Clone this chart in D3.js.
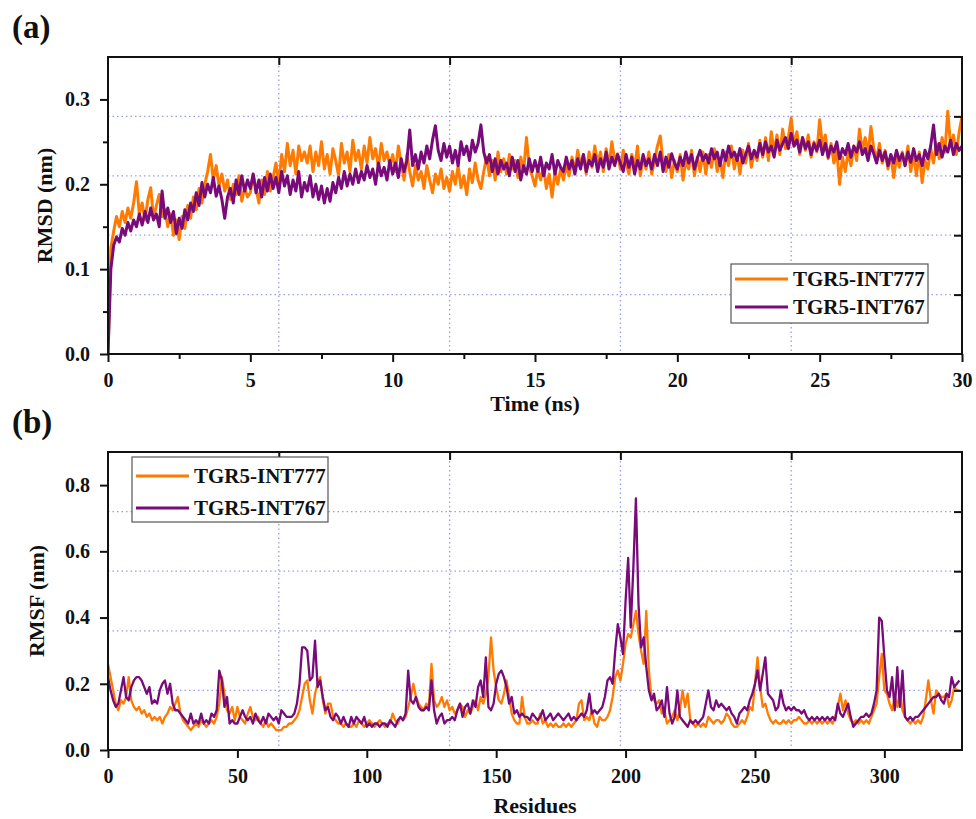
<!DOCTYPE html>
<html>
<head>
<meta charset="utf-8">
<script src="https://cdn.jsdelivr.net/npm/d3@7"></script>
<style>
  body { margin: 0; background: #fff; }
  svg text { font-family: "Liberation Serif", "Times New Roman", serif; font-weight: bold; fill: #111; }
</style>
</head>
<body>
<div id="chart"></div>
<script>
// Series names and colours (legend order)
const seriesNames = ['TGR5-INT777', 'TGR5-INT767'];
const seriesColors = ['#ff7a00', '#780a7a'];

// (a) RMSD vs time, one value every 0.1 ns, 0 to 30 ns
const rmsdStep = 0.1;
const rmsdINT777 = [
  0.000, 0.125, 0.145, 0.162, 0.150, 0.168, 0.155, 0.172, 0.160, 0.178,
  0.203, 0.165, 0.178, 0.158, 0.182, 0.196, 0.160, 0.175, 0.188, 0.162,
  0.170, 0.150, 0.165, 0.140, 0.158, 0.135, 0.162, 0.148, 0.175, 0.160,
  0.185, 0.170, 0.195, 0.178, 0.200, 0.215, 0.235, 0.205, 0.222, 0.198,
  0.212, 0.192, 0.205, 0.182, 0.200, 0.188, 0.210, 0.180, 0.196, 0.185,
  0.190, 0.212, 0.195, 0.178, 0.205, 0.188, 0.215, 0.192, 0.208, 0.225,
  0.200, 0.235, 0.215, 0.248, 0.222, 0.240, 0.212, 0.245, 0.228, 0.238,
  0.225, 0.245, 0.215, 0.238, 0.222, 0.250, 0.218, 0.235, 0.212, 0.242,
  0.228, 0.210, 0.248, 0.225, 0.238, 0.215, 0.252, 0.228, 0.240, 0.218,
  0.245, 0.225, 0.255, 0.230, 0.242, 0.220, 0.248, 0.228, 0.238, 0.222,
  0.235, 0.215, 0.245, 0.225, 0.205, 0.235, 0.215, 0.198, 0.222, 0.205,
  0.215, 0.195, 0.222, 0.205, 0.190, 0.212, 0.200, 0.218, 0.195, 0.208,
  0.192, 0.215, 0.200, 0.222, 0.196, 0.210, 0.188, 0.218, 0.202, 0.225,
  0.205, 0.195, 0.215, 0.232, 0.210, 0.228, 0.205, 0.238, 0.215, 0.230,
  0.212, 0.235, 0.218, 0.228, 0.208, 0.232, 0.215, 0.255, 0.220, 0.210,
  0.198, 0.218, 0.205, 0.222, 0.195, 0.212, 0.185, 0.215, 0.200, 0.218,
  0.205, 0.222, 0.210, 0.232, 0.215, 0.240, 0.222, 0.235, 0.212, 0.238,
  0.220, 0.245, 0.225, 0.238, 0.215, 0.242, 0.222, 0.250, 0.228, 0.236,
  0.218, 0.240, 0.225, 0.212, 0.235, 0.220, 0.245, 0.210, 0.232, 0.218,
  0.238, 0.212, 0.228, 0.245, 0.257, 0.225, 0.215, 0.235, 0.208, 0.228,
  0.215, 0.235, 0.205, 0.228, 0.218, 0.240, 0.210, 0.232, 0.215, 0.238,
  0.212, 0.235, 0.220, 0.242, 0.215, 0.230, 0.208, 0.238, 0.222, 0.245,
  0.218, 0.235, 0.212, 0.240, 0.225, 0.248, 0.220, 0.238, 0.228, 0.252,
  0.232, 0.255, 0.228, 0.262, 0.238, 0.258, 0.235, 0.265, 0.242, 0.255,
  0.278, 0.245, 0.262, 0.235, 0.255, 0.240, 0.258, 0.232, 0.250, 0.238,
  0.276, 0.245, 0.258, 0.230, 0.248, 0.225, 0.240, 0.200, 0.232, 0.215,
  0.238, 0.222, 0.245, 0.228, 0.265, 0.240, 0.255, 0.235, 0.268, 0.242,
  0.230, 0.248, 0.225, 0.240, 0.218, 0.235, 0.208, 0.232, 0.220, 0.238,
  0.222, 0.245, 0.215, 0.235, 0.210, 0.238, 0.202, 0.228, 0.218, 0.242,
  0.225, 0.248, 0.230, 0.255, 0.238, 0.286, 0.245, 0.258, 0.235, 0.262,
  0.280
];
const rmsdINT767 = [
  0.000, 0.100, 0.128, 0.138, 0.132, 0.148, 0.140, 0.155, 0.145, 0.158,
  0.150, 0.165, 0.152, 0.168, 0.155, 0.172, 0.158, 0.165, 0.150, 0.192,
  0.160, 0.172, 0.155, 0.168, 0.142, 0.160, 0.148, 0.170, 0.158, 0.178,
  0.168, 0.190, 0.175, 0.202, 0.185, 0.200, 0.190, 0.208, 0.186, 0.198,
  0.182, 0.160, 0.185, 0.195, 0.178, 0.205, 0.188, 0.210, 0.192, 0.205,
  0.195, 0.212, 0.190, 0.205, 0.185, 0.208, 0.192, 0.212, 0.195, 0.208,
  0.190, 0.215, 0.198, 0.210, 0.188, 0.205, 0.192, 0.215, 0.185, 0.202,
  0.192, 0.210, 0.185, 0.200, 0.182, 0.198, 0.178, 0.195, 0.180, 0.202,
  0.190, 0.208, 0.195, 0.215, 0.198, 0.212, 0.200, 0.218, 0.202, 0.215,
  0.205, 0.222, 0.208, 0.218, 0.200, 0.225, 0.210, 0.220, 0.205, 0.228,
  0.212, 0.225, 0.208, 0.230, 0.215, 0.228, 0.264, 0.222, 0.235, 0.218,
  0.238, 0.225, 0.245, 0.230, 0.252, 0.269, 0.240, 0.228, 0.248, 0.232,
  0.245, 0.225, 0.240, 0.222, 0.250, 0.235, 0.245, 0.228, 0.252, 0.238,
  0.248, 0.270, 0.238, 0.225, 0.235, 0.215, 0.230, 0.212, 0.228, 0.218,
  0.225, 0.210, 0.232, 0.215, 0.228, 0.205, 0.222, 0.212, 0.230, 0.215,
  0.228, 0.215, 0.232, 0.210, 0.225, 0.218, 0.235, 0.212, 0.228, 0.220,
  0.215, 0.232, 0.218, 0.228, 0.212, 0.230, 0.218, 0.235, 0.215, 0.228,
  0.222, 0.235, 0.215, 0.230, 0.220, 0.238, 0.218, 0.232, 0.222, 0.235,
  0.225, 0.215, 0.235, 0.220, 0.232, 0.212, 0.228, 0.218, 0.235, 0.222,
  0.230, 0.218, 0.235, 0.222, 0.238, 0.215, 0.232, 0.220, 0.236, 0.225,
  0.218, 0.232, 0.222, 0.238, 0.225, 0.235, 0.218, 0.230, 0.240, 0.228,
  0.235, 0.225, 0.242, 0.230, 0.238, 0.222, 0.240, 0.228, 0.245, 0.232,
  0.238, 0.228, 0.242, 0.225, 0.235, 0.245, 0.230, 0.240, 0.232, 0.248,
  0.235, 0.250, 0.238, 0.245, 0.232, 0.252, 0.240, 0.248, 0.255, 0.242,
  0.260, 0.245, 0.252, 0.238, 0.255, 0.242, 0.250, 0.235, 0.248, 0.240,
  0.252, 0.235, 0.248, 0.232, 0.245, 0.238, 0.250, 0.230, 0.242, 0.235,
  0.248, 0.232, 0.245, 0.238, 0.250, 0.235, 0.242, 0.228, 0.245, 0.236,
  0.225, 0.240, 0.228, 0.238, 0.222, 0.235, 0.225, 0.240, 0.228, 0.236,
  0.222, 0.238, 0.226, 0.242, 0.228, 0.235, 0.222, 0.240, 0.230, 0.245,
  0.270, 0.235, 0.248, 0.232, 0.245, 0.238, 0.252, 0.235, 0.248, 0.240,
  0.245
];
const timeTicks = [0, 5, 10, 15, 20, 25, 30];
const rmsdTicks = [0.0, 0.1, 0.2, 0.3];
const timeGrid = [6, 12, 18, 24];
const rmsdGrid = [0.07, 0.14, 0.21, 0.28];

// (b) RMSF per residue, residues 0..329
const residueStart = 0;
const rmsfINT777 = [
  0.26, 0.22, 0.18, 0.14, 0.12, 0.15, 0.14, 0.16, 0.22, 0.15,
  0.13, 0.12, 0.13, 0.11, 0.12, 0.10, 0.11, 0.09, 0.10, 0.09,
  0.10, 0.08, 0.10, 0.11, 0.13, 0.12, 0.14, 0.16, 0.11, 0.09,
  0.08, 0.07, 0.06, 0.07, 0.08, 0.07, 0.09, 0.08, 0.07, 0.08,
  0.09, 0.08, 0.10, 0.14, 0.22, 0.17, 0.12, 0.11, 0.13, 0.09,
  0.13, 0.10, 0.09, 0.08, 0.11, 0.13, 0.10, 0.09, 0.10, 0.08,
  0.07, 0.09, 0.07, 0.08, 0.07, 0.06, 0.06, 0.06, 0.07, 0.07,
  0.08, 0.08, 0.09, 0.10, 0.12, 0.16, 0.20, 0.21, 0.15, 0.11,
  0.17, 0.20, 0.22, 0.15, 0.11, 0.14, 0.14, 0.10, 0.09, 0.08,
  0.08, 0.07, 0.08, 0.07, 0.07, 0.08, 0.07, 0.09, 0.08, 0.07,
  0.08, 0.09, 0.08, 0.07, 0.08, 0.09, 0.08, 0.07, 0.08, 0.08,
  0.11, 0.09, 0.08, 0.10, 0.09, 0.10, 0.13, 0.16, 0.20, 0.16,
  0.14, 0.13, 0.12, 0.14, 0.13, 0.26, 0.15, 0.13, 0.14, 0.16,
  0.13, 0.15, 0.12, 0.13, 0.11, 0.12, 0.14, 0.13, 0.10, 0.12,
  0.11, 0.13, 0.15, 0.12, 0.16, 0.14, 0.17, 0.22, 0.34, 0.24,
  0.19, 0.15, 0.14, 0.17, 0.21, 0.16, 0.11, 0.09, 0.08, 0.08,
  0.16, 0.10, 0.08, 0.08, 0.09, 0.08, 0.08, 0.11, 0.08, 0.09,
  0.07, 0.08, 0.07, 0.08, 0.07, 0.07, 0.08, 0.07, 0.08, 0.07,
  0.08, 0.09, 0.14, 0.15, 0.09, 0.10, 0.09, 0.12, 0.08, 0.07,
  0.10, 0.09, 0.09, 0.10, 0.12, 0.16, 0.22, 0.24, 0.21, 0.26,
  0.32, 0.35, 0.34, 0.38, 0.42, 0.35, 0.30, 0.26, 0.42, 0.24,
  0.16, 0.15, 0.14, 0.15, 0.11, 0.12, 0.08, 0.09, 0.10, 0.12,
  0.09, 0.12, 0.18, 0.13, 0.17, 0.09, 0.08, 0.07, 0.08, 0.07,
  0.08, 0.07, 0.10, 0.09, 0.08, 0.09, 0.09, 0.08, 0.09, 0.11,
  0.10, 0.08, 0.07, 0.07, 0.08, 0.09, 0.08, 0.10, 0.13, 0.12,
  0.20, 0.28, 0.19, 0.13, 0.14, 0.11, 0.09, 0.08, 0.09, 0.08,
  0.08, 0.09, 0.08, 0.09, 0.08, 0.09, 0.09, 0.10, 0.09, 0.08,
  0.08, 0.09, 0.08, 0.09, 0.08, 0.09, 0.08, 0.09, 0.08, 0.09,
  0.08, 0.10, 0.13, 0.17, 0.12, 0.15, 0.11, 0.09, 0.08, 0.09,
  0.08, 0.09, 0.08, 0.09, 0.08, 0.10, 0.12, 0.14, 0.22, 0.29,
  0.18, 0.17, 0.14, 0.12, 0.16, 0.13, 0.18, 0.12, 0.10, 0.09,
  0.08, 0.09, 0.08, 0.09, 0.08, 0.10, 0.15, 0.21, 0.15, 0.11,
  0.18, 0.17, 0.16, 0.16, 0.17, 0.13, 0.15, 0.19, 0.18, 0.18
];
const rmsfINT767 = [
  0.22, 0.18, 0.15, 0.13, 0.14, 0.18, 0.22, 0.16, 0.15, 0.19,
  0.21, 0.22, 0.22, 0.21, 0.19, 0.17, 0.19, 0.14, 0.15, 0.14,
  0.18, 0.20, 0.21, 0.17, 0.20, 0.14, 0.12, 0.12, 0.11, 0.10,
  0.09, 0.08, 0.11, 0.08, 0.09, 0.08, 0.11, 0.08, 0.09, 0.08,
  0.11, 0.10, 0.12, 0.24, 0.21, 0.13, 0.16, 0.08, 0.09, 0.08,
  0.08, 0.10, 0.12, 0.10, 0.09, 0.10, 0.08, 0.11, 0.09, 0.08,
  0.10, 0.08, 0.11, 0.10, 0.09, 0.10, 0.08, 0.12, 0.11, 0.10,
  0.10, 0.10, 0.11, 0.14, 0.20, 0.31, 0.31, 0.30, 0.21, 0.22,
  0.33, 0.19, 0.21, 0.16, 0.12, 0.13, 0.10, 0.09, 0.11, 0.10,
  0.08, 0.10, 0.08, 0.07, 0.10, 0.08, 0.10, 0.09, 0.08, 0.10,
  0.07, 0.08, 0.07, 0.08, 0.08, 0.07, 0.08, 0.08, 0.07, 0.09,
  0.08, 0.07, 0.09, 0.10, 0.09, 0.11, 0.24, 0.15, 0.14, 0.16,
  0.13, 0.12, 0.12, 0.13, 0.12, 0.21, 0.12, 0.08, 0.10, 0.11,
  0.08, 0.09, 0.09, 0.10, 0.09, 0.12, 0.14, 0.10, 0.13, 0.14,
  0.11, 0.15, 0.13, 0.19, 0.21, 0.16, 0.28, 0.13, 0.12, 0.14,
  0.20, 0.23, 0.24, 0.22, 0.19, 0.14, 0.16, 0.11, 0.12, 0.10,
  0.11, 0.10, 0.10, 0.09, 0.11, 0.10, 0.09, 0.10, 0.12, 0.09,
  0.10, 0.11, 0.09, 0.10, 0.11, 0.10, 0.09, 0.10, 0.11, 0.09,
  0.10, 0.09, 0.10, 0.11, 0.10, 0.12, 0.17, 0.11, 0.12, 0.11,
  0.12, 0.13, 0.16, 0.21, 0.22, 0.20, 0.30, 0.38, 0.34, 0.29,
  0.45, 0.58, 0.37, 0.55, 0.76, 0.44, 0.31, 0.34, 0.25, 0.18,
  0.15, 0.17, 0.12, 0.13, 0.15, 0.10, 0.19, 0.11, 0.08, 0.10,
  0.18, 0.10, 0.09, 0.08, 0.07, 0.09, 0.08, 0.09, 0.08, 0.09,
  0.10, 0.14, 0.18, 0.13, 0.12, 0.15, 0.13, 0.14, 0.13, 0.12,
  0.13, 0.11, 0.10, 0.08, 0.11, 0.12, 0.13, 0.12, 0.15, 0.17,
  0.20, 0.24, 0.18, 0.23, 0.28, 0.17, 0.16, 0.15, 0.12, 0.13,
  0.18, 0.14, 0.12, 0.13, 0.12, 0.13, 0.12, 0.12, 0.11, 0.12,
  0.10, 0.09, 0.10, 0.09, 0.10, 0.09, 0.10, 0.09, 0.10, 0.09,
  0.10, 0.09, 0.14, 0.11, 0.10, 0.12, 0.14, 0.10, 0.07, 0.08,
  0.09, 0.10, 0.10, 0.11, 0.10, 0.11, 0.14, 0.18, 0.40, 0.39,
  0.28, 0.18, 0.16, 0.22, 0.12, 0.25, 0.13, 0.24, 0.10, 0.09,
  0.10, 0.09, 0.10, 0.10, 0.11, 0.12, 0.13, 0.14, 0.15, 0.16,
  0.16, 0.17, 0.15, 0.14, 0.17, 0.16, 0.22, 0.19, 0.20, 0.21
];
const residueTicks = [0, 50, 100, 150, 200, 250, 300];
const rmsfTicks = [0.0, 0.2, 0.4, 0.6, 0.8];
const residueGrid = [66, 132, 198, 264];
const rmsfGrid = [0.18, 0.36, 0.54, 0.72];

const width = 976;
const height = 819;

function drawPanel(svg, p) {
  const x = d3.scaleLinear().domain(p.xDomain).range([p.left, p.right]);
  const y = d3.scaleLinear().domain(p.yDomain).range([p.bottom, p.top]);
  const g = svg.append('g');

  g.append('clipPath').attr('id', p.id + '-clip')
    .append('rect').attr('x', p.left).attr('y', p.top)
    .attr('width', p.right - p.left).attr('height', p.bottom - p.top);

  // dotted grid
  const grid = g.append('g').attr('stroke', '#9c9cec').attr('stroke-width', 1.3).attr('stroke-dasharray', '1.5,3');
  grid.selectAll('.gx').data(p.xGrid).enter().append('line')
    .attr('x1', (d) => x(d)).attr('x2', (d) => x(d)).attr('y1', p.top).attr('y2', p.bottom);
  grid.selectAll('.gy').data(p.yGrid).enter().append('line')
    .attr('y1', (d) => y(d)).attr('y2', (d) => y(d)).attr('x1', p.left).attr('x2', p.right);

  // data lines
  const line = d3.line().x((d, i) => x(p.xAt(i))).y((d) => y(d));
  const lines = g.append('g').attr('clip-path', `url(#${p.id}-clip)`);
  p.series.forEach((s, k) => {
    lines.append('path').datum(s).attr('fill', 'none')
      .attr('stroke', seriesColors[k]).attr('stroke-width', p.lineWidth)
      .attr('stroke-linejoin', 'round').attr('d', line);
  });

  // frame
  g.append('rect').attr('x', p.left).attr('y', p.top)
    .attr('width', p.right - p.left).attr('height', p.bottom - p.top)
    .attr('fill', 'none').attr('stroke', '#111').attr('stroke-width', 2);

  const styleAxis = (sel) => {
    sel.select('.domain').remove();
    sel.selectAll('line').attr('stroke', '#111').attr('stroke-width', 2);
    sel.selectAll('text').attr('font-size', 20).attr('fill', '#111')
      .attr('font-family', '"Liberation Serif", "Times New Roman", serif').attr('font-weight', 'bold');
  };

  g.append('g').attr('transform', `translate(0,${p.bottom})`)
    .call(d3.axisBottom(x).tickValues(p.xTicks).tickSize(8).tickPadding(11).tickFormat(d3.format('d')))
    .call(styleAxis);
  g.append('g').attr('transform', `translate(${p.left},0)`)
    .call(d3.axisLeft(y).tickValues(p.yTicks).tickSize(8).tickPadding(10).tickFormat(d3.format('.1f')))
    .call(styleAxis);
  if (p.minor) {
    g.append('g').attr('transform', `translate(0,${p.bottom})`)
      .call(d3.axisBottom(x).tickValues(d3.pairs(p.xTicks).map(([a, b]) => (a + b) / 2)).tickSize(5).tickFormat(''))
      .call(styleAxis);
    g.append('g').attr('transform', `translate(${p.left},0)`)
      .call(d3.axisLeft(y).tickValues(d3.pairs(p.yTicks).map(([a, b]) => (a + b) / 2)).tickSize(5).tickFormat(''))
      .call(styleAxis);
  }
  // inward ticks on top and right at grid positions
  g.append('g').attr('transform', `translate(0,${p.top})`)
    .call(d3.axisTop(x).tickValues(p.xGrid).tickSize(-8).tickFormat(''))
    .call(styleAxis);
  g.append('g').attr('transform', `translate(${p.right},0)`)
    .call(d3.axisRight(y).tickValues(p.yGrid).tickSize(-8).tickFormat(''))
    .call(styleAxis);

  // axis titles
  g.append('text').attr('x', (p.left + p.right) / 2).attr('y', p.xTitleY)
    .attr('text-anchor', 'middle').attr('font-size', 22).text(p.xTitle);
  g.append('text').attr('transform', `translate(${p.yTitleX},${(p.top + p.bottom) / 2}) rotate(-90)`)
    .attr('text-anchor', 'middle').attr('font-size', 22).text(p.yTitle);

  // panel letter
  g.append('text').attr('x', 12).attr('y', p.letterY).attr('font-size', 33).text(p.letter);

  // legend
  const L = p.legend;
  const lg = g.append('g');
  lg.append('rect').attr('x', L.x).attr('y', L.y).attr('width', L.w).attr('height', L.h)
    .attr('fill', '#fff').attr('stroke', '#555').attr('stroke-width', 1.2);
  seriesNames.forEach((name, k) => {
    const ry = L.y + L.row0 + k * L.rowGap;
    lg.append('line').attr('x1', L.x + 4).attr('x2', L.x + 57).attr('y1', ry).attr('y2', ry)
      .attr('stroke', seriesColors[k]).attr('stroke-width', 3);
    lg.append('text').attr('x', L.x + 62).attr('y', ry + 7).attr('font-size', 21).text(name);
  });
}

function initChart() {
  const svg = d3.select('#chart').append('svg').attr('width', width).attr('height', height);
  svg.append('rect').attr('width', width).attr('height', height).attr('fill', '#fff');

  drawPanel(svg, {
    id: 'a', letter: '(a)', letterY: 38,
    left: 108, right: 962, top: 57, bottom: 354,
    xDomain: [0, 30], yDomain: [0, 0.35],
    xTicks: timeTicks, yTicks: rmsdTicks, xGrid: timeGrid, yGrid: rmsdGrid, minor: true,
    xAt: (i) => i * rmsdStep,
    series: [rmsdINT777, rmsdINT767], lineWidth: 3,
    xTitle: 'Time (ns)', xTitleY: 411, yTitle: 'RMSD (nm)', yTitleX: 52,
    legend: { x: 731, y: 264, w: 197, h: 59, row0: 15, rowGap: 28 },
  });

  drawPanel(svg, {
    id: 'b', letter: '(b)', letterY: 433,
    left: 108, right: 962, top: 452, bottom: 750,
    xDomain: [0, 330], yDomain: [0, 0.9],
    xTicks: residueTicks, yTicks: rmsfTicks, xGrid: residueGrid, yGrid: rmsfGrid, minor: false,
    xAt: (i) => residueStart + i,
    series: [rmsfINT777, rmsfINT767], lineWidth: 2.3,
    xTitle: 'Residues', xTitleY: 813, yTitle: 'RMSF (nm)', yTitleX: 44,
    legend: { x: 132, y: 457, w: 196, h: 65, row0: 19, rowGap: 32 },
  });
}

document.addEventListener('DOMContentLoaded', initChart);
</script>
</body>
</html>
